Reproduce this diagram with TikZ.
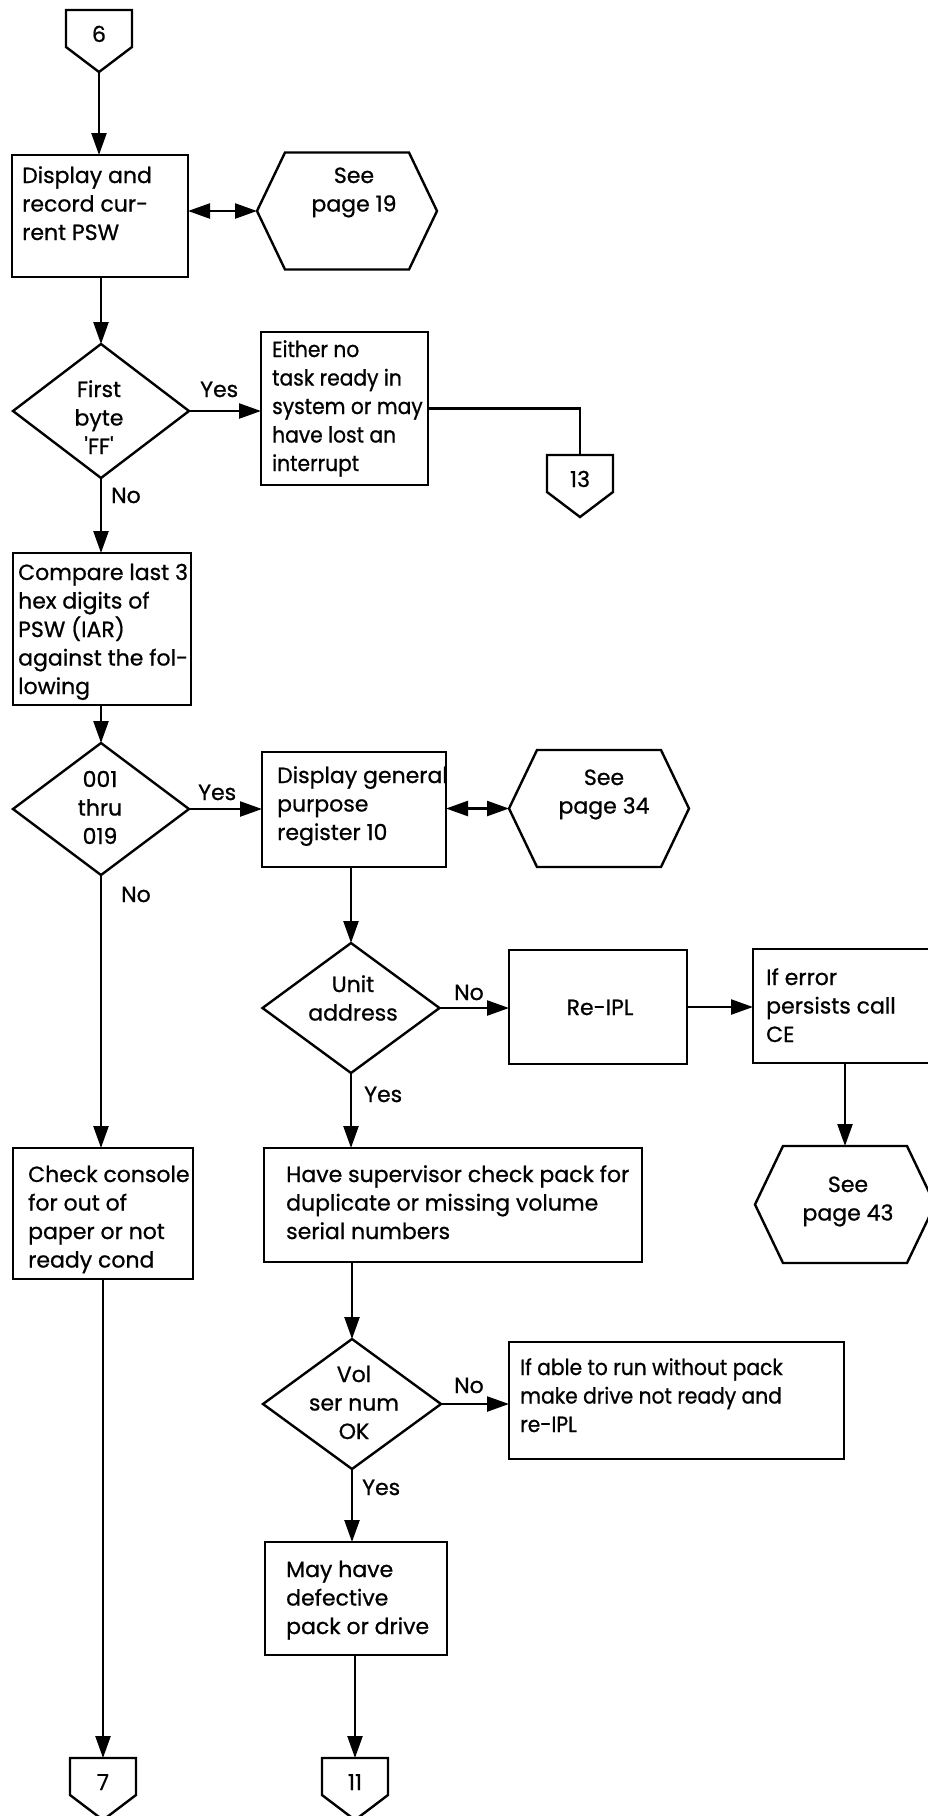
\documentclass[tikz,border=0pt]{standalone}
\usepackage{fontspec}
\setmainfont{Poppins}
\usetikzlibrary{arrows.meta,calc,shapes.geometric}
\newfontfamily\flowfont[FakeBold=0.8]{Poppins}
\newfontfamily\flownarrow[FakeBold=0.8,FakeStretch=0.92]{Poppins}
\newcommand{\tfont}{\flowfont\fontsize{22}{28.5}\selectfont}
\newcommand{\nfont}{\flownarrow\fontsize{22}{28.5}\selectfont}
\newcommand{\offconn}[4]{%
  \coordinate (#1) at (#2,#3);
  \coordinate (#1-tip) at ($(#1)+(0,62)$);
  \draw[ln] ($(#1)+(-33,0)$) -- ($(#1)+(33,0)$) -- ($(#1)+(33,37)$) -- (#1-tip) -- ($(#1)+(-33,37)$) -- cycle;
  \node[ctxt] (#1-t) at ($(#1)+(0,32)$) {#4};
}
\newcommand{\hexa}[3]{%
  \coordinate (#1) at (#2,#3);
  \coordinate (#1-w) at ($(#1)+(-90,0)$);
  \coordinate (#1-e) at ($(#1)+(90,0)$);
  \coordinate (#1-n) at ($(#1)+(0,-58.5)$);
  \draw[ln] (#1-w) -- ($(#1)+(-62,-58.5)$) -- ($(#1)+(62,-58.5)$) -- (#1-e) -- ($(#1)+(62,58.5)$) -- ($(#1)+(-62,58.5)$) -- cycle;
}
\tikzset{
  ln/.style={line width=2.4pt, line join=miter},
  arr/.style={ln, -{Triangle[length=22pt,width=15pt]}},
  darr/.style={ln, {Triangle[length=22pt,width=15pt]}-{Triangle[length=22pt,width=15pt]}},
  box/.style={draw, rectangle, line width=2.4pt, inner sep=0pt, outer sep=0pt, anchor=north west},
  dia/.style={draw, diamond, line width=2.4pt, inner sep=0pt, outer sep=0pt},
  txt/.style={inner sep=0pt, align=left, anchor=base west, font=\tfont},
  ctxt/.style={inner sep=0pt, align=center, anchor=base, font=\tfont},
}
\begin{document}
\begin{tikzpicture}[x=1pt,y=-1pt]
\useasboundingbox[fill=white] (0,0) rectangle (927,1816);

% off-page connectors
\offconn{c6}{99}{10}{6}
\offconn{c13}{580}{455}{13}
\offconn{c7}{103}{1758}{7}
\offconn{c11}{355}{1758}{11}

% hexagons (text nodes anchored at the last line's baseline)
\hexa{h19}{347}{211}
\node[ctxt] (h19t) at (354,211.5) {See\\page 19};
\hexa{h34}{599}{808.5}
\node[ctxt] (h34t) at (604,813.5) {See\\page 34};
\hexa{h43}{845}{1204.5}
\node[ctxt] (h43t) at (848,1220.5) {See\\page 43};

% boxes
\node[box, minimum width=176pt, minimum height=122pt] (b1) at (12,155) {};
\node[txt] (b1t) at (22,240) {Display and\\record cur-\\rent PSW};

\node[box, minimum width=167pt, minimum height=153pt] (b2) at (261,332) {};
\node[txt, font=\nfont] (b2t) at (272,471) {Either no\\task ready in\\system or may\\have lost an\\interrupt};

\node[box, minimum width=178pt, minimum height=152pt] (b3) at (13,553) {};
\node[txt] (b3t) at (18,694) {Compare last 3\\hex digits of\\PSW (IAR)\\against the fol-\\lowing};

\node[box, minimum width=184pt, minimum height=115pt] (b4) at (262,752) {};
\node[txt] (b4t) at (277,840) {Display general\\purpose\\register 10};

\node[box, minimum width=178pt, minimum height=114pt] (rei) at (509,950) {};
\node[ctxt] (reit) at (600,1015) {Re-IPL};

\node[box, minimum width=185pt, minimum height=114pt] (ife) at (753,949) {};
\node[txt] (ifet) at (766,1042) {If error\\persists call\\CE};

\node[box, minimum width=180pt, minimum height=131pt] (b5) at (13,1148) {};
\node[txt] (b5t) at (28,1267.5) {Check console\\for out of\\paper or not\\ready cond};

\node[box, minimum width=378pt, minimum height=114pt] (b6) at (264,1148) {};
\node[txt] (b6t) at (286,1239) {Have supervisor check pack for\\duplicate or missing volume\\serial numbers};

\node[box, minimum width=335pt, minimum height=117pt] (b7) at (509,1342) {};
\node[txt, font=\nfont] (b7t) at (520,1432) {If able to run without pack\\make drive not ready and\\re-IPL};

\node[box, minimum width=182pt, minimum height=113pt] (b8) at (265,1542) {};
\node[txt] (b8t) at (286,1634) {May have\\defective\\pack or drive};

% decisions
\node[dia, minimum width=176pt, minimum height=134pt] (d1) at (101,411) {};
\node[ctxt] (d1t) at (99,454) {First\\byte\\\textquotesingle FF\textquotesingle};
\node[dia, minimum width=176pt, minimum height=132pt] (d2) at (101,809) {};
\node[ctxt] (d2t) at (100,844) {001\\thru\\019};
\node[dia, minimum width=177pt, minimum height=130pt] (d3) at (351,1008) {};
\node[ctxt] (d3t) at (353,1020.5) {Unit\\address};
\node[dia, minimum width=178pt, minimum height=130pt] (d4) at (352,1404) {};
\node[ctxt] (d4t) at (354,1439) {Vol\\ser num\\OK};

% branch labels
\node[txt] (l1y) at (200,397) {Yes};
\node[txt] (l1n) at (111,503) {No};
\node[txt] (l2y) at (198,800) {Yes};
\node[txt] (l2n) at (121,902) {No};
\node[txt] (l3n) at (454,1000) {No};
\node[txt] (l3y) at (364,1102) {Yes};
\node[txt] (l4n) at (454,1393) {No};
\node[txt] (l4y) at (362,1495) {Yes};

% flow lines
\draw[arr] (c6-tip) -- (c6-tip |- b1.north);
\draw[darr] (b1.east |- h19-w) -- (h19-w);
\draw[arr] (d1.north |- b1.south) -- (d1.north);
\draw[arr] (d1.east) -- (d1.east -| b2.west);
\draw[ln] (b2.east) -| (c13);
\draw[arr] (d1.south) -- (d1.south |- b3.north);
\draw[arr] (d2.north |- b3.south) -- (d2.north);
\draw[arr] (d2.east) -- (d2.east -| b4.west);
\draw[darr] (b4.east |- h34-w) -- (h34-w);
\draw[arr] (d2.south) -- (d2.south |- b5.north);
\draw[arr] (c7 |- b5.south) -- (c7);
\draw[arr] (d3.north |- b4.south) -- (d3.north);
\draw[arr] (d3.east) -- (d3.east -| rei.west);
\draw[arr] (rei.east) -- (rei.east -| ife.west);
\draw[arr] (h43-n |- ife.south) -- (h43-n);
\draw[arr] (d3.south) -- (d3.south |- b6.north);
\draw[arr] (d4.north |- b6.south) -- (d4.north);
\draw[arr] (d4.east) -- (d4.east -| b7.west);
\draw[arr] (d4.south) -- (d4.south |- b8.north);
\draw[arr] (c11 |- b8.south) -- (c11);
\end{tikzpicture}
\end{document}
